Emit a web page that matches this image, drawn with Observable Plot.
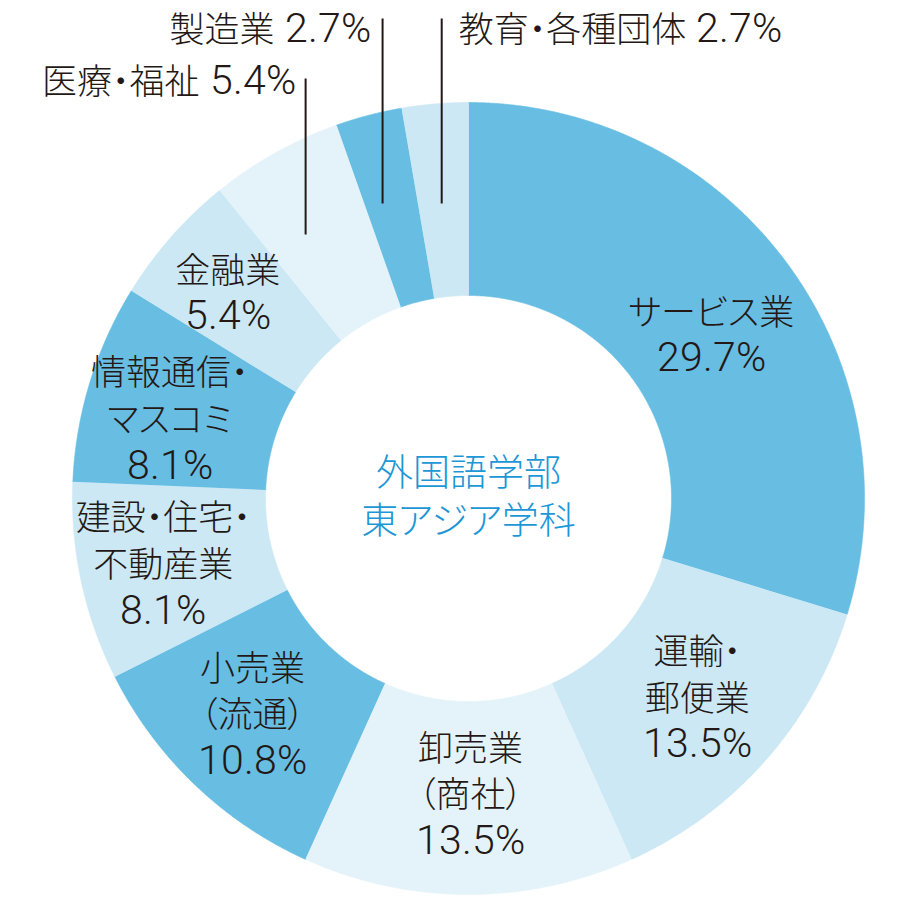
<!DOCTYPE html>
<html><head><meta charset="utf-8">
<script src="https://cdn.jsdelivr.net/npm/d3@7"></script>
<script src="https://cdn.jsdelivr.net/npm/@observablehq/plot@0.6"></script>
<style>
@font-face{font-family:"LatA";src:local("Roboto Light"),local("Roboto-Light");size-adjust:118%;unicode-range:U+0020-007E;}
@font-face{font-family:"LatB";src:local("Liberation Sans"),local("LiberationSans");size-adjust:111%;unicode-range:U+0020-007E;}
body{margin:0;background:#fff}#chart{width:900px;height:900px}
#chart svg text{font-feature-settings:"palt" 1;}
</style>
</head><body><div id="chart"></div>
<script>
// ---- data ----
const categories = ["サービス業","運輸・郵便業","卸売業（商社）","小売業（流通）","建設・住宅・不動産業","情報通信・マスコミ","金融業","医療・福祉","製造業","教育・各種団体"];
const values = [29.7,13.5,13.5,10.8,8.1,8.1,5.4,5.4,2.7,2.7];
const tones = ["dark","light","pale","dark","light","dark","light","pale","dark","light"];
const labelText = ["サービス業","運輸・\n郵便業","卸売業\n（商社）","小売業\n（流通）","建設・住宅・\n不動産業","情報通信・\nマスコミ","金融業","医療・福祉","製造業","教育・各種団体"];
const outsideLabels = ["医療・福祉","製造業","教育・各種団体"];
const centerTitle = ["外国語学部","東アジア学科"];

// ---- style / layout ----
const toneNames = ["dark","light","pale"];
const toneColors = ["#67bde2","#cbe8f4","#e4f3fa"];
const textColor = "#231815";
const font = "LatA,LatB,'Noto Sans CJK JP',sans-serif";
const FS = 35;
const R_OUT = 396, R_IN = 203, R_LABEL = 302;
// pixel nudges of the in-ring labels from the slice centroid
const nudge = {
  "サービス業": [0, 14], "運輸・郵便業": [2, -2], "卸売業（商社）": [2, -8], "小売業（流通）": [-7, -4],
  "建設・住宅・不動産業": [-10, 0], "情報通信・マスコミ": [-10, 7], "金融業": [-14, -8]
};
const outerLayout = {
  "医療・福祉":   {r: 334, lineBottom: 264, lineTop: 420, textY: 416, dx: -10},
  "製造業":       {r: 341, lineBottom: 295, lineTop: 480, textY: 468, dx: -12},
  "教育・各種団体": {r: 316, lineBottom: 295, lineTop: 480, textY: 468, dx: 17}
};

const rows = categories.map((name, i) => ({name, value: values[i], tone: tones[i], label: labelText[i]}));
const arcs = d3.pie().sort(null).value(d => d.value)(rows);
const pct = v => `${v.toFixed(1)}%`;

// ring polygons sampled from the pie angles
const ring = [];
for (const p of arcs) {
  const n = Math.max(2, Math.ceil((p.endAngle - p.startAngle) / (Math.PI / 720)));
  for (let k = 0; k <= n; k++) {
    const a = p.startAngle + (p.endAngle - p.startAngle) * k / n;
    ring.push({name: p.data.name, tone: p.data.tone, x: R_OUT * Math.sin(a), y: R_OUT * Math.cos(a)});
  }
  for (let k = n; k >= 0; k--) {
    const a = p.startAngle + (p.endAngle - p.startAngle) * k / n;
    ring.push({name: p.data.name, tone: p.data.tone, x: R_IN * Math.sin(a), y: R_IN * Math.cos(a)});
  }
}

const mid = p => (p.startAngle + p.endAngle) / 2;
const inside = arcs.filter(p => !outsideLabels.includes(p.data.name)).map(p => {
  const [nx, ny] = nudge[p.data.name] || [0, 0];
  return {
    x: R_LABEL * Math.sin(mid(p)) + nx, y: R_LABEL * Math.cos(mid(p)) - ny,
    text: `${p.data.label}\n${pct(p.data.value)}`
  };
});
const outside = arcs.filter(p => outsideLabels.includes(p.data.name)).map(p => {
  const L = outerLayout[p.data.name];
  const x = L.r * Math.sin(mid(p));
  return {x, tx: x + L.dx, y0: L.lineBottom, y1: L.lineTop, ty: L.textY, dx: L.dx,
    text: `${p.data.label} ${pct(p.data.value)}`};
});

const chart = Plot.plot({
  width: 900, height: 900, margin: 0,
  x: {domain: [-468, 432], axis: null},
  y: {domain: [-402, 498], axis: null},
  color: {domain: toneNames, range: toneColors},
  marks: [
    Plot.line(ring, {x: "x", y: "y", z: "name", fill: "tone", stroke: "tone", strokeWidth: 0.6, curve: "linear"}),
    Plot.text(inside, {x: "x", y: "y", text: "text", fill: textColor, fontSize: FS, fontWeight: 300, lineHeight: 1.33, fontFamily: font}),
    Plot.link(outside, {x1: "x", y1: "y0", x2: "x", y2: "y1", stroke: textColor, strokeWidth: 2}),
    Plot.text(outside.filter(d => d.dx < 0), {x: "tx", y: "ty", text: "text", textAnchor: "end", fill: textColor, fontSize: FS, fontWeight: 300, fontFamily: font}),
    Plot.text(outside.filter(d => d.dx > 0), {x: "tx", y: "ty", text: "text", textAnchor: "start", fill: textColor, fontSize: FS, fontWeight: 300, fontFamily: font}),
    Plot.text([centerTitle.join("\n")], {x: 0, y: 0, dy: -4, text: d => d, fill: "#1d97d6", fontSize: 37, fontWeight: 300, lineHeight: 1.3, fontFamily: font})
  ]
});
document.getElementById("chart").append(chart);
</script>
</body></html>
